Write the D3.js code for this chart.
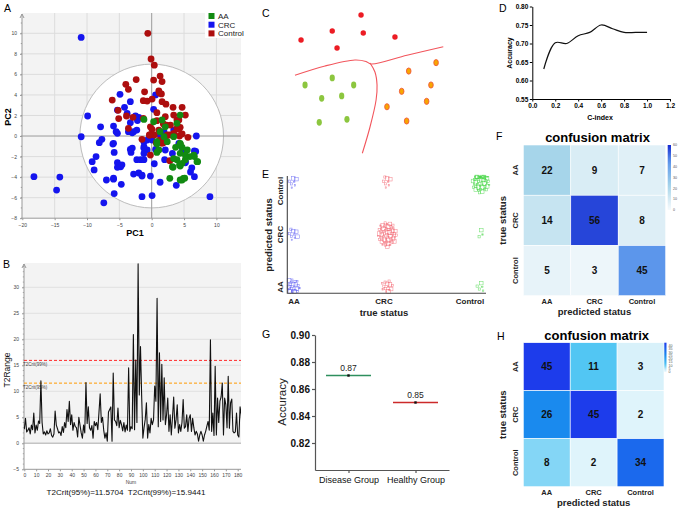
<!DOCTYPE html>
<html>
<head>
<meta charset="utf-8">
<script src="https://cdn.jsdelivr.net/npm/d3@7"></script>
<style>
body { margin: 0; background: #fff; }
svg { display: block; font-family: "Liberation Sans", Arial, Helvetica, sans-serif; }
</style>
</head>
<body>
<svg id="fig" width="682" height="511"></svg>
<script>
// ---------- data ----------
// A: PCA scores [PC1, PC2]
var pcaCRC = [[-10.9,9.6],[-9.9,1.95],[-7.9,0.9],[-10.9,-0.07],[-5.9,0.97],[-5.3,0.26],[-4.9,4.06],[-4.2,2.79],[-3.3,3.34],[-5.3,2.53],
  [-3.8,2.2],[-3.3,1.3],[-2.3,0.58],[-3.0,0.32],[-2.0,1.82],[0.3,2.6],[0.6,4.0],[1.6,-0.07],[6.9,0],[-8.1,-0.65],
  [-7.7,-0.32],[-6.0,-0.78],[-3.0,-1.17],[-18.2,-3.96],[-14.2,-4.0],[-14.7,-5.26],[-7.4,-6.5],[-7.0,-4.28],[-5.9,-4.2],[-5.8,-5.6],
  [-4.7,-4.7],[-9.2,-2.5],[-8.9,-3.3],[-8.6,-2.0],[-5.8,-1.6],[-5.3,-2.6],[-4.8,-3.0],[-4.6,-2.8],[-3.2,-1.6],[-2.8,-3.7],
  [-2.0,-3.6],[-1.5,-3.8],[-2.3,-2.3],[-1.7,-2.3],[-1.5,-5.9],[0.06,-5.8],[-0.2,-3.9],[0.4,-2.7],[1.3,-4.5],[2.0,-2.3],
  [3.8,-4.8],[5.2,-2.6],[6.2,-3.1],[6.6,-3.96],[6.6,-1.46],[9.0,-5.9],[3.2,-1.7],[4.7,-1.5],[-1.2,-1.2],[-0.7,-1.36],
  [0.6,-1.3],[-2.5,1.95],[-2.2,1.5],[-5.5,0.42],[-3.6,0.42],[-2.8,0.42],[-5.9,-0.71],[-3.3,-1.3],[-1.2,-0.55],[-1.2,-1.04],
  [-1.2,-1.7],[-0.7,-0.39],[-0.3,-0.06],[0.05,-0.39],[0.8,-1.36],[1.3,0.1],[1.9,0.42],[2.1,-1.36],[3.4,0.58],[4.2,-0.71],
  [-1.5,-3.9],[-1.2,-2.3],[-5.9,-4.1],[-5.3,-3.05],[6.0,-3.5],[6.8,-1.5],[5.2,-2.5]];
var pcaControl = [[-0.6,10.0],[-0.1,7.5],[0.4,6.9],[1.3,5.84],[1.6,5.3],[0.3,5.45],[-2.4,5.5],[-4.0,5.03],[-3.6,4.55],[-1.1,4.3],
  [1.1,4.4],[1.5,4.1],[-6.1,3.5],[-1.3,3.44],[-0.7,3.4],[0.06,3.6],[1.6,3.34],[2.2,3.1],[-5.2,2.5],[-5.1,1.7],
  [-3.9,1.95],[-2.9,1.82],[-1.3,1.72],[0.8,2.27],[2.1,1.88],[3.3,2.79],[4.7,2.79],[5.2,2.04],[3.4,2.04],[3.9,1.56],
  [2.9,1.07],[-3.6,0.75],[0.8,1.49],[-0.2,0.9],[1.8,1.17],[3.9,0.75],[4.4,0.85],[-1.5,-0.32],[-0.36,0.1],[0.4,0.1],
  [2.4,0.1],[3.4,0.26],[4.3,0],[5.6,-0.13],[0.7,-0.65],[1.8,-0.65],[4.4,-0.78],[-0.2,-1.85],[1.6,-0.71],[2.8,-2.4],
  [1.2,4.2],[4.2,1.56],[2.3,1.07],[0.05,0.65],[1.1,0.58],[4.2,0.65],[4.7,0.2],[2.8,0.1],[-0.3,0.1],[1.2,-0.39],
  [2.1,-0.23],[1.6,-0.65]];
var pcaAA = [[4.4,2.04],[3.9,1.24],[0.3,1.39],[1.6,1.56],[2.1,0.9],[4.4,-0.71],[3.4,-0.06],[0.8,-0.55],[1.1,-1.36],[2.4,-0.55],
  [3.7,-1.1],[4.7,-1.1],[4.4,-1.68],[5.5,-1.36],[5.9,-2.0],[3.9,-2.3],[5.2,-2.3],[6.6,-2.0],[7.1,-2.5],[4.7,-2.66],
  [3.2,-2.99],[4.4,-2.92],[2.8,-4.12],[4.4,-4.28],[4.9,-4.12],[1.9,-0.06],[1.3,0.42],[-1.2,1.62],[0.8,-0.78],[0.8,-1.6],
  [3.4,-2.2],[3.3,-3.05],[4.3,-2.8],[5.2,-1.85],[6.5,-1.85],[7.0,-2.5],[4.7,-4.28],[5.1,-4.1],[4.4,-0.78]];
var pcaEllipse = [11.1, 7.0];

// B: Hotelling T2 per sample
var t2Range = [
  2.7,4.8,2.2,2.5,3.0,1.8,3.5,2.6,5.8,2.0,
  3.5,2.5,4.3,3.8,12.0,4.0,1.8,2.2,1.6,2.4,
  1.8,2.0,2.8,1.5,1.2,1.8,6.2,3.5,2.8,2.0,
  2.2,1.5,3.2,2.1,4.0,3.0,6.5,4.2,8.1,3.6,
  5.5,2.5,4.0,3.2,3.0,1.2,5.0,3.5,2.0,1.0,
  3.5,2.0,11.7,3.8,7.0,3.0,2.5,3.4,1.0,4.2,
  3.4,4.0,2.6,6.0,9.5,4.0,5.0,2.5,1.0,2.0,
  0.4,6.0,6.5,7.0,0.4,13.5,4.5,4.2,3.4,6.8,
  3.0,4.4,3.6,2.4,4.0,2.2,3.5,2.5,14.5,2.3,
  3.2,2.8,20.9,2.6,16.0,4.0,34.5,9.3,18.6,9.0,
  1.0,3.0,4.6,7.8,1.0,3.6,2.0,4.8,3.6,4.5,
  11.0,8.1,27.9,3.2,17.4,4.2,15.2,4.5,12.6,3.6,
  5.5,8.7,2.3,5.5,1.6,5.0,8.9,2.9,4.5,7.4,
  2.0,3.6,2.3,4.0,8.4,2.9,3.2,5.5,2.3,4.8,
  5.5,2.3,4.8,3.0,1.6,2.3,1.8,0.4,1.6,2.3,
  1.6,0.4,1.6,2.3,3.3,4.2,2.5,19.9,2.3,5.8,
  1.5,14.8,1.6,8.7,4.0,8.1,8.9,11.6,1.6,8.7,
  7.4,3.0,12.9,2.9,7.8,8.5,2.3,2.0,2.2,5.8,
  1.6,1.2,7.0,5.5,1.6];
var t2Crit95 = 11.5704, t2Crit99 = 15.9441;

// C: schematic (0-100 units)
var schemRed = [[6.9,20],[26.4,14],[44.4,3.3],[45.8,15.3],[65.6,18],[29.4,25.3]];
var schemGreen = [[9.4,50],[26.4,45.3],[39.8,50],[19.8,58.9],[32.3,57.3],[18.3,74.9],[35.6,72.9]];
var schemOrange = [[74.2,40.7],[91.3,35.1],[69.8,54.2],[88.1,50],[60.6,64.5],[85.4,60.9],[72.9,74]];
var schemBoundary1 = [[3.1,43.5],[21.9,37.3],[40.6,33.3],[47.5,34.3],[50.6,36],[73.1,30.2],[95.8,24.5]];
var schemBoundary2 = [[50,35.3],[53.1,41.3],[54.4,50],[53.8,60],[50,78],[45.2,95.5]];

// D: accuracy vs C-index
var cIndex = [0.1,0.2,0.3,0.4,0.5,0.6,0.7,0.8,0.9,1.0];
var cAccuracy = [0.631,0.702,0.700,0.721,0.730,0.750,0.740,0.730,0.730,0.730];

// E, F, H: classes and confusion matrices (rows true, cols predicted)
var classes = ['AA', 'CRC', 'Control'];
var confusionF = [[22,9,7],[14,56,8],[5,3,45]];
var confusionH = [[45,11,3],[26,45,2],[8,2,34]];

// G
var groupNames = ['Disease Group', 'Healthy Group'];
var groupAccuracy = [0.87, 0.85];

// ---------- helpers ----------
var svg = d3.select('#fig');

function label(g, x, y, s, size, o){
    o = o || {};
    var t = g.append('text')
        .attr('x', x).attr('y', y)
        .attr('font-size', size)
        .attr('text-anchor', o.anchor || 'middle')
        .attr('fill', o.fill || '#000')
        .text(s);
    if(o.bold) t.attr('font-weight', 'bold');
    if(o.rot) t.attr('transform', 'rotate(' + o.rot + ',' + x + ',' + y + ')');
    return t;
}

function styleAxis(sel, size, textColor, lineColor, bold){
    sel.attr('font-family', null).attr('font-size', size);
    sel.selectAll('text').attr('fill', textColor).attr('font-weight', bold ? 'bold' : null);
    sel.selectAll('line').attr('stroke', lineColor);
    sel.selectAll('path.domain').attr('stroke', lineColor);
}

// panel letters
[['A',4,12],['B',3,268],['C',262,17],['D',499,12],['E',262,178],['F',496,140],['G',262,338],['H',497,340]]
    .forEach(function(d){ label(svg, d[1], d[2], d[0], 10.5, {anchor: 'start'}); });

// ---------- A: PCA score plot ----------
(function(){
    var g = svg.append('g');
    var x = d3.scaleLinear().domain([-20, 10]).range([22.3, 216.4]);
    var y = d3.scaleLinear().domain([-8, 10]).range([218.2, 33.3]);
    var left = 22, right = 241, top = 13, bottom = y(-8);

    g.append('rect').attr('x', left).attr('y', top).attr('width', right - left).attr('height', bottom - top).attr('fill', '#f3f3f3');
    g.selectAll('.gx').data([-15, -10, -5, 5, 10]).enter().append('line')
        .attr('x1', x).attr('x2', x).attr('y1', top).attr('y2', bottom).attr('stroke', '#dcdcdc');
    g.selectAll('.gy').data([-6, -4, -2, 2, 4, 6, 8, 10]).enter().append('line')
        .attr('x1', left).attr('x2', right).attr('y1', y).attr('y2', y).attr('stroke', '#dcdcdc');

    g.append('ellipse')
        .attr('cx', x(0)).attr('cy', y(0))
        .attr('rx', x(pcaEllipse[0]) - x(0)).attr('ry', y(0) - y(pcaEllipse[1]))
        .attr('fill', '#fff').attr('stroke', '#bdbdbd');

    g.append('line').attr('x1', x(0)).attr('x2', x(0)).attr('y1', top).attr('y2', bottom).attr('stroke', '#9a9a9a');
    g.append('line').attr('x1', left).attr('x2', right).attr('y1', y(0)).attr('y2', y(0)).attr('stroke', '#9a9a9a');

    var ya = g.append('g').attr('transform', 'translate(' + left + ',0)')
        .call(d3.axisLeft(y).tickValues(d3.range(-8, 11, 2)).tickSize(2).tickPadding(3));
    ya.select('.domain').remove();
    styleAxis(ya, 5, '#444', '#999');
    g.selectAll('.my').data(d3.range(-8, 12, 1)).enter().append('line')
        .attr('x1', left - 1.2).attr('x2', left).attr('y1', y).attr('y2', y).attr('stroke', '#999');
    g.append('line').attr('x1', left).attr('x2', left).attr('y1', top + 1).attr('y2', bottom).attr('stroke', '#999');
    g.append('path').attr('d', 'M' + (left - 2) + ',' + (top + 5) + 'L' + left + ',' + (top + 1) + 'L' + (left + 2) + ',' + (top + 5))
        .attr('fill', 'none').attr('stroke', '#999');

    var xa = g.append('g').attr('transform', 'translate(0,' + bottom + ')')
        .call(d3.axisBottom(x).tickValues(d3.range(-20, 11, 5)).tickSize(2).tickPadding(3).tickSizeOuter(0));
    xa.select('.domain').attr('d', 'M' + left + ',0H' + right);
    styleAxis(xa, 5, '#444', '#999');

    function dots(data, color){
        g.append('g').selectAll('circle').data(data).enter().append('circle')
            .attr('cx', function(d){ return x(d[0]); })
            .attr('cy', function(d){ return y(d[1]); })
            .attr('r', 3.4)
            .attr('fill', color);
    }
    dots(pcaCRC, '#1414ee');
    dots(pcaControl, '#ad0e0e');
    dots(pcaAA, '#128a12');

    // legend
    g.append('rect').attr('x', 205).attr('y', 11).attr('width', 48).attr('height', 27).attr('fill', '#fff');
    var legend = [['AA', '#128a12'], ['CRC', '#1414ee'], ['Control', '#ad0e0e']];
    legend.forEach(function(d, i){
        var cy = 16 + i * 8.7;
        g.append('rect').attr('x', 208.5).attr('y', cy - 3).attr('width', 6).attr('height', 6).attr('fill', d[1]);
        label(g, 218, cy + 2.8, d[0], 8, {anchor: 'start', fill: '#222'});
    });

    label(g, 135, 236, 'PC1', 9, {bold: true});
    label(g, 11, 117, 'PC2', 9, {bold: true, rot: -90});
})();

// ---------- B: T2 range ----------
(function(){
    var g = svg.append('g');
    var x = d3.scaleLinear().domain([0, 180]).range([24.3, 237.7]);
    var y = d3.scaleLinear().domain([-5, 30]).range([469.3, 287.3]);
    var left = 24, right = 241, top = 263, bottom = y(-5);

    g.append('rect').attr('x', left).attr('y', top).attr('width', right - left).attr('height', y(0) - top).attr('fill', '#f3f3f3');
    g.selectAll('.gy').data([5, 10, 15, 20, 25, 30]).enter().append('line')
        .attr('x1', left).attr('x2', right).attr('y1', y).attr('y2', y).attr('stroke', '#e0e0e0');
    g.append('line').attr('x1', left).attr('x2', right).attr('y1', y(0)).attr('y2', y(0)).attr('stroke', '#c4c4c4').attr('stroke-width', 1.4);

    var ya = g.append('g').attr('transform', 'translate(' + left + ',0)')
        .call(d3.axisLeft(y).tickValues(d3.range(-5, 31, 5)).tickSize(2).tickPadding(3));
    ya.select('.domain').remove();
    styleAxis(ya, 5, '#444', '#999');
    g.selectAll('.my').data(d3.range(-5, 35, 1)).enter().append('line')
        .attr('x1', left - 1.2).attr('x2', left).attr('y1', y).attr('y2', y).attr('stroke', '#aaa');
    g.append('line').attr('x1', left).attr('x2', left).attr('y1', top + 1).attr('y2', bottom).attr('stroke', '#999');
    g.append('path').attr('d', 'M' + (left - 2) + ',' + (top + 5) + 'L' + left + ',' + (top + 1) + 'L' + (left + 2) + ',' + (top + 5))
        .attr('fill', 'none').attr('stroke', '#999');

    var xa = g.append('g').attr('transform', 'translate(0,' + bottom + ')')
        .call(d3.axisBottom(x).tickValues(d3.range(0, 181, 10)).tickSize(2).tickPadding(2).tickSizeOuter(0));
    xa.select('.domain').attr('d', 'M' + left + ',0H' + right);
    styleAxis(xa, 5, '#444', '#999');

    g.append('line').attr('x1', left).attr('x2', right).attr('y1', y(t2Crit99)).attr('y2', y(t2Crit99))
        .attr('stroke', '#ff2a2a').attr('stroke-dasharray', '3,2');
    g.append('line').attr('x1', left).attr('x2', right).attr('y1', y(t2Crit95)).attr('y2', y(t2Crit95))
        .attr('stroke', '#ff9a00').attr('stroke-dasharray', '3,2');
    label(g, 23, y(t2Crit99) + 5.5, 'T2Crit(99%)', 4.5, {anchor: 'start', fill: '#444'});
    label(g, 23, y(t2Crit95) + 5.5, 'T2Crit(95%)', 4.5, {anchor: 'start', fill: '#444'});

    g.append('clipPath').attr('id', 'clipB').append('rect')
        .attr('x', left).attr('y', top).attr('width', right - left).attr('height', bottom - top);
    g.append('path').datum(t2Range)
        .attr('clip-path', 'url(#clipB)')
        .attr('d', d3.line().x(function(d, i){ return x(i); }).y(function(d){ return y(d); }))
        .attr('fill', 'none').attr('stroke', '#111').attr('stroke-width', 1.1).attr('stroke-linejoin', 'round');

    label(g, 131, 484, 'Num', 5, {fill: '#444'});
    label(g, 10, 370, 'T2Range', 8.5, {rot: -90, fill: '#111'});
    label(g, 126, 494.5, 'T2Crit(95%)=' + t2Crit95 + '  T2Crit(99%)=' + t2Crit99, 8.1, {fill: '#111'})
        .attr('xml:space', 'preserve');
})();

// ---------- C: schematic ----------
(function(){
    var g = svg.append('g');
    var x = d3.scaleLinear().domain([0, 100]).range([290, 450]);
    var y = d3.scaleLinear().domain([0, 100]).range([10, 160]);
    var line = d3.line().x(function(d){ return x(d[0]); }).y(function(d){ return y(d[1]); }).curve(d3.curveCatmullRom);
    [schemBoundary1, schemBoundary2].forEach(function(b){
        g.append('path').attr('d', line(b)).attr('fill', 'none').attr('stroke', '#f2555c').attr('stroke-width', 1.1);
    });
    g.selectAll('.r').data(schemRed).enter().append('circle')
        .attr('cx', function(d){ return x(d[0]); }).attr('cy', function(d){ return y(d[1]); })
        .attr('r', 2.7).attr('fill', '#ec1c24');
    g.selectAll('.gr').data(schemGreen).enter().append('ellipse')
        .attr('cx', function(d){ return x(d[0]); }).attr('cy', function(d){ return y(d[1]); })
        .attr('rx', 2.6).attr('ry', 3.4).attr('fill', '#8cc63f');
    g.selectAll('.o').data(schemOrange).enter().append('ellipse')
        .attr('cx', function(d){ return x(d[0]); }).attr('cy', function(d){ return y(d[1]); })
        .attr('rx', 2.3).attr('ry', 3.1).attr('fill', '#f7a600').attr('stroke', '#f05a3c').attr('stroke-width', 0.9);
})();

// ---------- D: accuracy vs C-index ----------
(function(){
    var g = svg.append('g');
    var x = d3.scaleLinear().domain([0, 1.2]).range([532.3, 670]);
    var y = d3.scaleLinear().domain([0.55, 0.80]).range([99, 6.5]);
    var ya = g.append('g').attr('transform', 'translate(' + x(0) + ',0)')
        .call(d3.axisLeft(y).tickValues(d3.range(0.55, 0.801, 0.05)).tickFormat(d3.format('.2f')).tickSize(2.5).tickPadding(1.5).tickSizeOuter(0));
    styleAxis(ya, 6.5, '#000', '#000', true);
    var xa = g.append('g').attr('transform', 'translate(0,' + y(0.55) + ')')
        .call(d3.axisBottom(x).tickValues(d3.range(0, 1.21, 0.2)).tickFormat(d3.format('.1f')).tickSize(2.5).tickPadding(1.5).tickSizeOuter(0));
    styleAxis(xa, 6.5, '#000', '#000', true);
    g.append('path').datum(d3.zip(cIndex, cAccuracy))
        .attr('d', d3.line().x(function(d){ return x(d[0]); }).y(function(d){ return y(d[1]); }).curve(d3.curveCatmullRom))
        .attr('fill', 'none').attr('stroke', '#111').attr('stroke-width', 1.2);
    label(g, 600, 119.5, 'C-index', 7, {bold: true});
    label(g, 512, 53, 'Accuracy', 7, {bold: true, rot: -90});
})();

// ---------- E: predicted vs true jitter ----------
(function(){
    var g = svg.append('g');
    var x = d3.scalePoint().domain(classes).range([293, 481]);
    var y = d3.scalePoint().domain(classes).range([287, 182]);
    var colors = {AA: '#5a5af2', CRC: '#f2606c', Control: '#3fd43f'};
    var pts = [];
    classes.forEach(function(tc, i){
        classes.forEach(function(pc, j){
            var n = confusionF[i][j];
            var sp = 2.5 + 1.35 * Math.sqrt(n);
            d3.range(n).forEach(function(k){
                var r = Math.sqrt((k + 0.5) / n), a = k * 2.39996;
                pts.push({t: tc, p: pc, dx: r * Math.cos(a) * sp * 0.75, dy: r * Math.sin(a) * sp, s: [1.4, 2.2, 3.6][k % 3]});
            });
        });
    });
    g.selectAll('rect').data(pts).enter().append('rect')
        .attr('x', function(d){ return Math.max(x(d.t) + d.dx, 289) - d.s / 2; })
        .attr('y', function(d){ return Math.min(Math.max(y(d.p) + d.dy, 177), 291.5) - d.s / 2; })
        .attr('width', function(d){ return d.s; })
        .attr('height', function(d){ return d.s; })
        .attr('fill', 'none')
        .attr('stroke', function(d){ return colors[d.t]; })
        .attr('stroke-width', 0.55)
        .attr('stroke-opacity', 0.75);

    g.append('path').attr('d', 'M287.3,176V293.3H486').attr('fill', 'none').attr('stroke', '#444').attr('stroke-width', 1.1);

    var xl = {AA: 294, CRC: 384, Control: 470};
    classes.forEach(function(c){
        label(g, xl[c], 304, c, 8, {bold: true, fill: '#222'});
        var cy = c === 'Control' ? 191 : y(c);
        label(g, 283, cy, c, 8, {bold: true, rot: -90, fill: '#222'});
    });
    label(g, 384, 316, 'true status', 9.5, {bold: true, fill: '#222'});
    label(g, 272, 235, 'predicted status', 9.5, {bold: true, rot: -90, fill: '#222'});
})();

// ---------- F, H: confusion matrices ----------
function confusion(mat, box, color, maxV, cbar, barTicks){
    var g = svg.append('g');
    var x = d3.scaleBand().domain(classes).range([box.x0, box.x1]);
    var y = d3.scaleBand().domain(classes).range([box.y0, box.y1]);
    var cells = [];
    mat.forEach(function(row, i){ row.forEach(function(v, j){ cells.push({t: classes[i], p: classes[j], v: v}); }); });
    g.selectAll('rect.cell').data(cells).enter().append('rect')
        .attr('x', function(d){ return x(d.p); }).attr('y', function(d){ return y(d.t); })
        .attr('width', x.bandwidth()).attr('height', y.bandwidth())
        .attr('fill', function(d){ return color(d.v); })
        .attr('stroke', '#fff').attr('stroke-width', 0.6);
    g.selectAll('text.num').data(cells).enter().append('text')
        .attr('x', function(d){ return x(d.p) + x.bandwidth() / 2; })
        .attr('y', function(d){ return y(d.t) + y.bandwidth() / 2 + 3.5; })
        .attr('text-anchor', 'middle').attr('font-size', 10).attr('font-weight', 'bold').attr('fill', '#111')
        .text(function(d){ return d.v; });

    label(g, (box.x0 + box.x1) / 2 + 3, box.y0 - 3, 'confusion matrix', 13, {bold: true});
    classes.forEach(function(c){
        label(g, 518, y(c) + y.bandwidth() / 2, c, 7.5, {bold: true, rot: -90, fill: '#222'});
        label(g, x(c) + x.bandwidth() / 2, box.y1 + 8, c, 7.5, {bold: true, fill: '#222'});
    });
    label(g, 506.5, (box.y0 + box.y1) / 2, 'true status', 9.5, {bold: true, rot: -90, fill: '#222'});
    label(g, (box.x0 + box.x1) / 2, box.y1 + 19, 'predicted status', 9.5, {bold: true, fill: '#222'});

    // colour bar
    var id = 'grad' + Math.round(box.y0);
    var grad = svg.append('defs').append('linearGradient').attr('id', id)
        .attr('x1', 0).attr('x2', 0).attr('y1', 1).attr('y2', 0);
    d3.range(0, 1.001, 0.1).forEach(function(t){
        grad.append('stop').attr('offset', t).attr('stop-color', color(t * maxV));
    });
    var by = d3.scaleLinear().domain([0, maxV]).range([cbar.y1, cbar.y0]);
    g.append('rect').attr('x', cbar.x).attr('y', cbar.y0).attr('width', cbar.w).attr('height', cbar.y1 - cbar.y0)
        .attr('fill', 'url(#' + id + ')');
    barTicks.forEach(function(v){
        label(g, cbar.x + cbar.w + 2, by(v) + 1.2, v, 3.6, {anchor: 'start', fill: '#555'});
    });
}

confusion(confusionF, {x0: 523.3, x1: 665.7, y0: 145, y1: 295.7},
    d3.scaleLinear().domain([0, 10, 22, 45, 60]).range(['#f7fbfd', '#d6ebf4', '#a6d5ea', '#5c96eb', '#1228d2']).clamp(true),
    60, {x: 667.7, w: 3.3, y0: 145, y1: 210}, [0, 10, 20, 30, 40, 50, 60]);

confusion(confusionH, {x0: 523.3, x1: 664, y0: 342.7, y1: 486.7},
    d3.scaleLinear().domain([0, 3, 11, 26, 45]).range(['#eef9fd', '#d8f1fa', '#52c6f3', '#1a8aee', '#1d3ceb']).clamp(true),
    45, {x: 664.3, w: 2.2, y0: 342.7, y1: 372}, [0, 5, 10, 15, 20, 25, 30, 35, 40]);

// ---------- G: accuracy by group ----------
(function(){
    var g = svg.append('g');
    var x = d3.scalePoint().domain(groupNames).range([315, 449]).padding(0.5);
    var y = d3.scaleLinear().domain([0.80, 0.90]).range([470, 335]);
    var ya = g.append('g').attr('transform', 'translate(315,0)')
        .call(d3.axisLeft(y).tickValues([0.82, 0.84, 0.86, 0.88, 0.90]).tickFormat(d3.format('.2f')).tickSize(3).tickPadding(2).tickSizeOuter(0));
    styleAxis(ya, 10, '#111', '#555', true);
    ya.selectAll('line, path').attr('stroke-width', 1.2);
    var xa = g.append('g').attr('transform', 'translate(0,470)')
        .call(d3.axisBottom(x).tickSize(3).tickPadding(4).tickSizeOuter(0));
    styleAxis(xa, 9, '#111', '#555', false);
    xa.selectAll('line, path').attr('stroke-width', 1.2);

    var colors = ['#2e8f5e', '#cc2a2a'];
    groupNames.forEach(function(n, i){
        g.append('line').attr('x1', x(n) - 22.5).attr('x2', x(n) + 22.5)
            .attr('y1', y(groupAccuracy[i])).attr('y2', y(groupAccuracy[i]))
            .attr('stroke', colors[i]).attr('stroke-width', 1.6);
        g.append('rect').attr('x', x(n) - 1.2).attr('y', y(groupAccuracy[i]) - 1.2).attr('width', 2.4).attr('height', 2.4).attr('fill', '#111');
        label(g, x(n), y(groupAccuracy[i]) - 4.5, d3.format('.2f')(groupAccuracy[i]), 8.5, {fill: '#222'});
    });
    label(g, 286, 402, 'Accuracy', 11.5, {rot: -90, fill: '#222'});
})();
</script>
</body>
</html>
